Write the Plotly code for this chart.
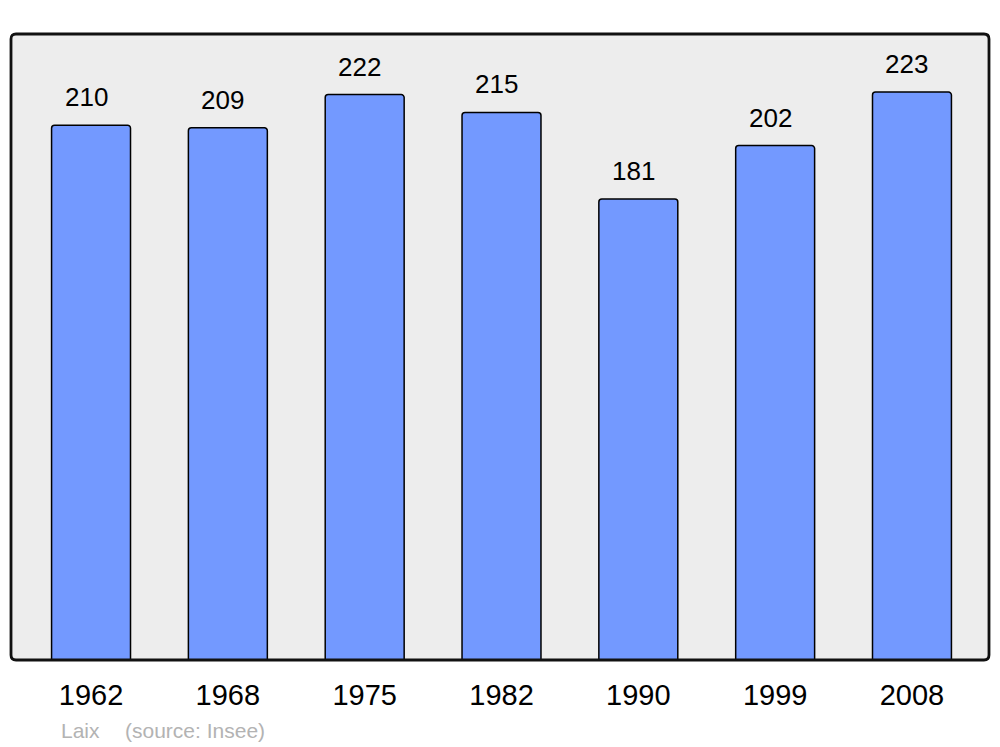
import plotly.graph_objects as go

years = ["1962", "1968", "1975", "1982", "1990", "1999", "2008"]
population = [210, 209, 222, 215, 181, 202, 223]
commune = "Laix"
source = "(source: Insee)"

xpos = list(range(len(years)))

fig = go.Figure()
fig.add_trace(go.Bar(
    x=xpos, y=population, width=0.577,
    marker=dict(color="#7399ff", line=dict(color="#000000", width=1.5), cornerradius=3),
    hoverinfo="skip",
))

for i, v in zip(xpos, population):
    fig.add_annotation(x=i, y=v, text=str(v), showarrow=False, yanchor="bottom",
                       yshift=11, xshift=-5,
                       font=dict(family="Liberation Sans, Arial", size=26, color="#000000"))

fig.add_annotation(xref="paper", yref="paper", x=48/978, y=-0.113, xanchor="left", yanchor="middle",
                   text=commune, showarrow=False,
                   font=dict(family="Liberation Sans, Arial", size=21, color="#b3b3b3"))
fig.add_annotation(xref="paper", yref="paper", x=112/978, y=-0.113, xanchor="left", yanchor="middle",
                   text=source, showarrow=False,
                   font=dict(family="Liberation Sans, Arial", size=21, color="#b3b3b3"))

# rounded frame around the plot area
rx, ry = 5 / 978, 5 / 626
frame = (f"M {rx},0 L {1-rx},0 Q 1,0 1,{ry} L 1,{1-ry} Q 1,1 {1-rx},1 "
         f"L {rx},1 Q 0,1 0,{1-ry} L 0,{ry} Q 0,0 {rx},0 Z")
fig.add_shape(type="path", xref="paper", yref="paper", path=frame,
              line=dict(color="#111111", width=2.8), fillcolor="rgba(0,0,0,0)", layer="above")

# the page body has an 8px margin; size the figure so it fits the 1000x747 window
fig.update_layout(
    width=992, height=739,
    margin=dict(l=3, r=11, t=26, b=87),
    paper_bgcolor="#ffffff", plot_bgcolor="#ededed",
    showlegend=False,
    xaxis=dict(range=[-0.585, 6.563], tickmode="array", tickvals=xpos, ticktext=years,
               showgrid=False, zeroline=False, showline=False,
               ticks="", ticklabelstandoff=15,
               tickfont=dict(family="Liberation Sans, Arial", size=29, color="#000000")),
    yaxis=dict(range=[0, 245.8], showgrid=False, zeroline=False, showticklabels=False,
               showline=False, ticks=""),
)

fig.write_html("out.html")
